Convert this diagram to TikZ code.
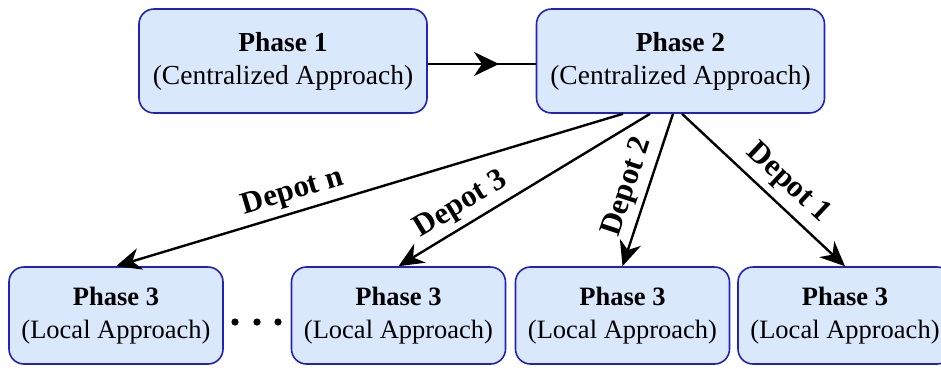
\documentclass[tikz,border=0pt]{standalone}
\usepackage{fontspec}
\setmainfont{Liberation Serif}
\usetikzlibrary{arrows.meta,decorations.markings}
\definecolor{boxfill}{RGB}{218,232,252}
\definecolor{boxline}{RGB}{35,35,185}
\begin{document}
\begin{tikzpicture}[x=1pt,y=-1pt,
  phasebox/.style={draw=boxline, fill=boxfill, line width=1.6pt, rounded corners=15pt,
    align=center, inner sep=0pt, font=\fontsize{27.5}{33}\selectfont},
  topbox/.style={phasebox, minimum width=288pt, minimum height=104pt},
  lowbox/.style={phasebox, minimum width=214pt, minimum height=97pt,
    font=\fontsize{26.5}{33}\selectfont},
  conn/.style={line width=2.4pt, black},
  tip/.style={-{Stealth[length=25pt, width=22pt, inset=8pt]}},
  depot/.style={font=\fontsize{31}{33}\selectfont\bfseries, sloped, above, inner sep=5pt}]
  \useasboundingbox (0,0) rectangle (941,368);

  % upper row
  \node[topbox] (p1) at (283,61) {\textbf{Phase 1}\\(Centralized Approach)};
  \node[topbox] (p2) at (680.5,61) {\textbf{Phase 2}\\(Centralized Approach)};

  % lower row
  \node[lowbox] (b1) at (116,315.5) {\textbf{Phase 3}\\(Local Approach)};
  \node[lowbox] (b2) at (398.5,315.5) {\textbf{Phase 3}\\(Local Approach)};
  \node[lowbox] (b3) at (622.5,315.5) {\textbf{Phase 3}\\(Local Approach)};
  \node[lowbox] (b4) at (845,315.5) {\textbf{Phase 3}\\(Local Approach)};

  % ellipsis between the first two local boxes
  \coordinate (dots) at (257,322);
  \foreach \dx in {-22,0,21} \fill ([xshift=\dx pt]dots) circle (3.6pt);

  % phase 1 to phase 2, arrow head mid-way
  \draw[conn, postaction={decorate},
        decoration={markings, mark=at position 0.66 with {\arrow{Stealth[length=25pt, width=24pt, inset=8pt]}}}]
    ([yshift=-3pt]p1.east) -- ([yshift=-3pt]p2.west);

  % phase 2 to each depot
  \draw[conn, tip] ([xshift=-57.5pt]p2.south) -- (b1.north)
    node[depot, pos=0.64] {Depot n};
  \draw[conn, tip] ([xshift=-30.5pt]p2.south) -- (b2.north)
    node[depot, pos=0.71] {Depot 3};
  \draw[conn, tip] ([xshift=-7.5pt]p2.south) -- (b3.north)
    node[depot, pos=0.52] {Depot 2};
  \draw[conn, tip] ([xshift=1.5pt]p2.south) -- (b4.north)
    node[depot, pos=0.56, inner sep=7pt] {Depot 1};
\end{tikzpicture}
\end{document}
